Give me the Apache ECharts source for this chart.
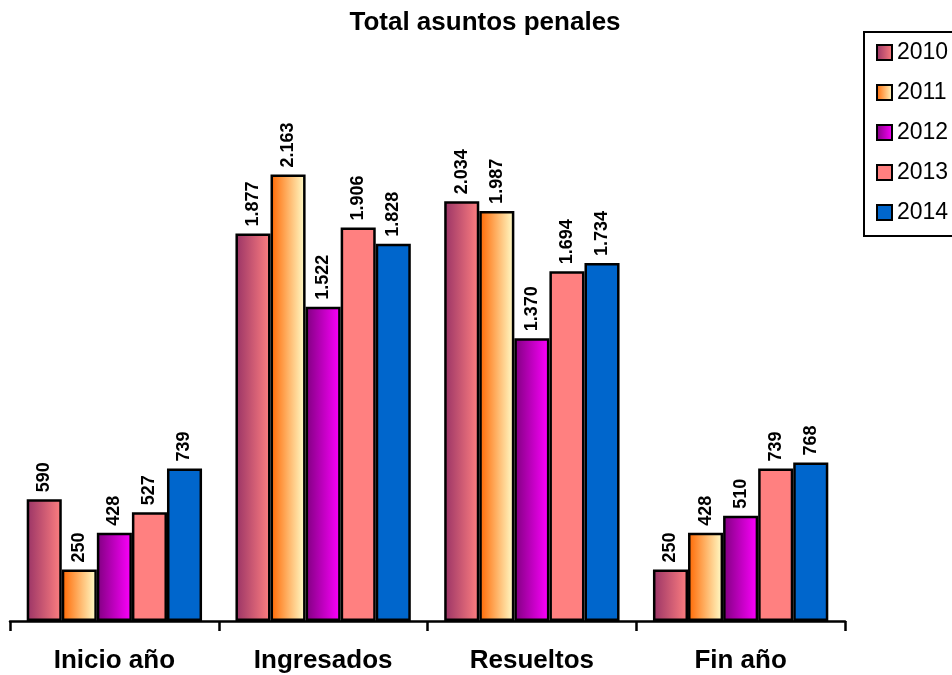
<!DOCTYPE html>
<html><head><meta charset="utf-8">
<script src="https://cdn.jsdelivr.net/npm/echarts@6/dist/echarts.min.js"></script>
<style>html,body{margin:0;padding:0;background:#fff}#c{width:952px;height:675px}</style>
</head><body><div id="c"></div>
<script>
const categories = ['Inicio año', 'Ingresados', 'Resueltos', 'Fin año'];
const years = ['2010', '2011', '2012', '2013', '2014'];
const v2010 = [590, 1877, 2034, 250];
const v2011 = [250, 2163, 1987, 428];
const v2012 = [428, 1522, 1370, 510];
const v2013 = [527, 1906, 1694, 739];
const v2014 = [739, 1828, 1734, 768];
const values = [v2010, v2011, v2012, v2013, v2014];

function grad(a, b) {
  return new echarts.graphic.LinearGradient(0, 0, 1, 0, [{offset: 0, color: a}, {offset: 1, color: b}]);
}
const fills = [
  grad('#993366', '#ff8080'),
  grad('#ff6600', '#ffffcc'),
  grad('#800080', '#ff00ff'),
  '#ff8080',
  '#0066cc'
];
const fmt = v => {
  const s = String(v);
  return s.length > 3 ? s.slice(0, s.length - 3) + '.' + s.slice(-3) : s;
};
const FONT = '"Liberation Sans", Arial, sans-serif';

const chart = echarts.init(document.getElementById('c'), null, {renderer: 'canvas'});
chart.setOption({
  backgroundColor: '#fff',
  animation: false,
  title: {
    text: 'Total asuntos penales', left: 480, top: 5, textAlign: 'center',
    textStyle: {fontFamily: FONT, fontSize: 26, fontWeight: 'bold', color: '#000'}
  },
  legend: {
    orient: 'vertical', left: 864, top: 32,
    data: years, icon: 'rect',
    itemWidth: 15, itemHeight: 15, itemGap: 17,
    padding: [9, 30, 12, 12],
    borderColor: '#000', borderWidth: 2, backgroundColor: '#fff',
    textStyle: {fontFamily: FONT, fontSize: 23, color: '#000', padding: [0, 0, 0, 0]}
  },
  grid: {left: 10, right: 107, top: 105, bottom: 54},
  xAxis: {
    type: 'category', data: categories,
    axisLine: {lineStyle: {color: '#000', width: 2.5}},
    axisTick: {show: true, length: 10, lineStyle: {color: '#000', width: 2.5}},
    axisLabel: {fontFamily: FONT, fontSize: 26, fontWeight: 'bold', color: '#000', margin: 27}
  },
  yAxis: {
    type: 'value', min: 0, max: 2500, interval: 500,
    show: false, splitLine: {show: false}
  },
  series: years.map((y, i) => ({
    name: y, type: 'bar', data: values[i],
    barGap: '0%', barCategoryGap: '16%',
    itemStyle: {color: fills[i], borderColor: '#000', borderWidth: 2.5},
    label: {
      show: true, position: 'top', rotate: 90, align: 'left', verticalAlign: 'middle',
      distance: 7, formatter: p => fmt(p.value),
      fontFamily: FONT, fontSize: 18, fontWeight: 'bold', color: '#000'
    }
  }))
});
</script></body></html>
